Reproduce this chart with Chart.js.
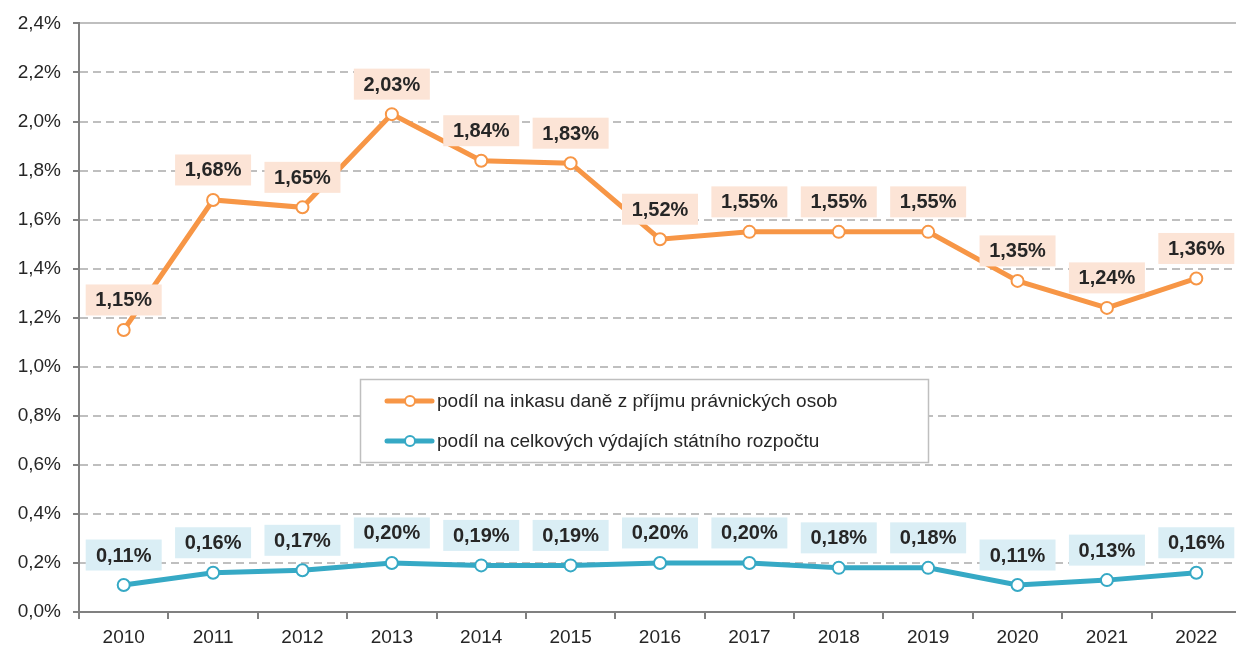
<!DOCTYPE html>
<html><head><meta charset="utf-8">
<script src="https://cdn.jsdelivr.net/npm/chart.js@4"></script>
<style>
html,body{margin:0;padding:0;overflow:hidden;background:#fff;}
#wrap{width:1249px;height:645px;position:relative;}
</style></head>
<body><div id="wrap"><canvas id="c"></canvas></div>
<script>
const categories = ['2010','2011','2012','2013','2014','2015','2016','2017','2018','2019','2020','2021','2022'];
const taxShare = [1.15,1.68,1.65,2.03,1.84,1.83,1.52,1.55,1.55,1.55,1.35,1.24,1.36];
const budgetShare = [0.11,0.16,0.17,0.20,0.19,0.19,0.20,0.20,0.18,0.18,0.11,0.13,0.16];
const seriesNames = ['podíl na inkasu daně z příjmu právnických osob','podíl na celkových výdajích státního rozpočtu'];
const yMin = 0, yMax = 2.4, yStep = 0.2;

const ORANGE = '#F79646', BLUE = '#36A9C5';
const ORANGE_BG = '#FCE4D6', BLUE_BG = '#DAEEF5';
const FONT = '"Liberation Sans", Arial, sans-serif';
const fmt = v => v.toFixed(2).replace('.', ',') + '%';

const labelPlugin = {
  id: 'labels',
  afterDatasetsDraw(chart) {
    const ctx = chart.ctx;
    const bgs = [ORANGE_BG, BLUE_BG];
    ctx.save();
    ctx.font = 'bold 20px ' + FONT;
    ctx.textAlign = 'center';
    ctx.textBaseline = 'middle';
    chart.data.datasets.forEach((ds, di) => {
      const meta = chart.getDatasetMeta(di);
      meta.data.forEach((pt, i) => {
        const txt = fmt(ds.data[i]);
        const w = 76, h = 31;
        const cx = pt.x, cy = pt.y - 30;
        ctx.fillStyle = bgs[di];
        ctx.fillRect(cx - w/2, cy - h/2, w, h);
        ctx.fillStyle = '#262626';
        ctx.fillText(txt, cx, cy + 1);
      });
    });
    ctx.restore();
  }
};

const legendPlugin = {
  id: 'boxlegend',
  afterDraw(chart) {
    const ctx = chart.ctx;
    ctx.save();
    const x = 360, y = 379, w = 568, h = 83;
    ctx.fillStyle = '#fff';
    ctx.fillRect(x, y, w, h);
    ctx.strokeStyle = '#BFBFBF';
    ctx.lineWidth = 1.5;
    ctx.strokeRect(x + 0.5, y + 0.5, w, h);
    const rows = [[ORANGE, 401], [BLUE, 441]];
    rows.forEach((r, i) => {
      ctx.strokeStyle = r[0];
      ctx.lineWidth = 5;
      ctx.lineCap = 'round';
      ctx.beginPath(); ctx.moveTo(387, r[1]); ctx.lineTo(432, r[1]); ctx.stroke();
      ctx.beginPath(); ctx.arc(410, r[1], 5, 0, Math.PI*2);
      ctx.fillStyle = '#fff'; ctx.fill();
      ctx.lineWidth = 2; ctx.stroke();
      ctx.fillStyle = '#262626';
      ctx.font = '19px ' + FONT;
      ctx.textAlign = 'left'; ctx.textBaseline = 'middle';
      ctx.fillText(seriesNames[i], 437, r[1] + 1);
    });
    ctx.restore();
  }
};

new Chart(document.getElementById('c'), {
  type: 'line',
  data: {
    labels: categories,
    datasets: [
      { label: seriesNames[0], data: taxShare, borderColor: ORANGE, borderWidth: 5,
        pointRadius: 6, pointBorderWidth: 2, pointBackgroundColor: '#fff', pointBorderColor: ORANGE, tension: 0 },
      { label: seriesNames[1], data: budgetShare, borderColor: BLUE, borderWidth: 5,
        pointRadius: 6, pointBorderWidth: 2, pointBackgroundColor: '#fff', pointBorderColor: BLUE, tension: 0 }
    ]
  },
  options: {
    responsive: true, maintainAspectRatio: false, animation: false,
    layout: { padding: { top: 20, right: 0, left: 0, bottom: 0 } },
    plugins: { legend: { display: false }, tooltip: { enabled: false } },
    scales: {
      x: {
        offset: true,
        grid: { offset: true, drawOnChartArea: false, drawTicks: true, tickLength: 7, color: '#808080', tickColor: '#808080', lineWidth: 2 },
        border: { color: '#808080', width: 2 },
        ticks: { color: '#262626', font: { family: FONT, size: 19 }, padding: 7 },
        afterFit: s => { s.height = 33; }
      },
      y: {
        min: yMin, max: yMax,
        ticks: { stepSize: yStep, color: '#262626', font: { family: FONT, size: 19 }, padding: 12,
          callback: v => v.toFixed(1).replace('.', ',') + '%' },
        grid: { color: '#BFBFBF', lineWidth: 2, tickLength: 6, tickColor: '#808080', tickWidth: 2 },
        border: { color: '#808080', width: 2,
          dash: ctx => ctx.tick && Math.abs(ctx.tick.value - yMax) < 1e-9 ? [] : [8, 5] },
        afterFit: s => { s.width = 79; }
      }
    }
  },
  plugins: [labelPlugin, legendPlugin]
});
</script>
</body></html>
